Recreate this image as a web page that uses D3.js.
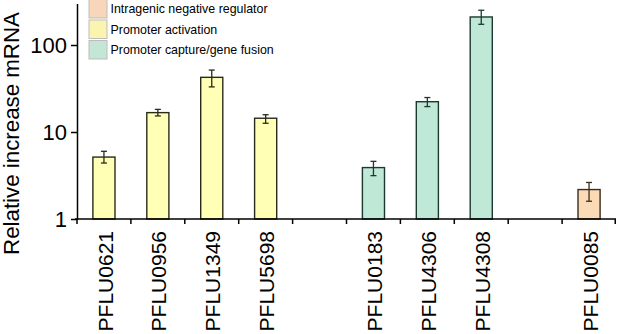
<!DOCTYPE html>
<html>
<head>
<meta charset="utf-8">
<script src="https://cdn.jsdelivr.net/npm/d3@7"></script>
<style>
  html, body { margin: 0; padding: 0; background: #fff; }
  svg { display: block; font-family: "Liberation Sans", Arial, Helvetica, sans-serif; }
</style>
</head>
<body>
<svg id="chart" width="617" height="334"></svg>
<script>
// ---- data ----
const categories = ["PFLU0621","PFLU0956","PFLU1349","PFLU5698","","PFLU0183","PFLU4306","PFLU4308"," ","PFLU0085"];
const values     = [5.15, 16.7, 42.5, 14.4, null, 3.9, 22.3, 210, null, 2.18];
const errLow     = [4.4, 15.3, 33.0, 12.6, null, 3.15, 19.6, 173, null, 1.6];
const errHigh    = [6.0, 18.2, 51.5, 15.8, null, 4.6, 24.9, 251, null, 2.63];
const groups     = ["act","act","act","act",null,"cap","cap","cap",null,"neg"];
const yTicks     = [1, 10, 100];
const legendKeys   = ["neg","act","cap"];
const legendLabels = ["Intragenic negative regulator","Promoter activation","Promoter capture/gene fusion"];
const yTitle = "Relative increase mRNA";

// ---- styles ----
const fillColor   = {neg:"#fbdab6", act:"#ffffb6", cap:"#bfe8d6"};
const strokeColor = {neg:"#3a2e1c", act:"#2a2a1a", cap:"#1b3a2f"};
const swatchColor = {neg:"#f8d6b9", act:"#fbf4b0", cap:"#c4e6d7"};

const svg = d3.select("#chart");
const x0 = 77, x1 = 616, yBase = 219, yTop = 3.5;

const x = d3.scaleBand().domain(categories).range([x0, x1]).padding(0);
const y = d3.scaleLog().domain([1, 300]).range([yBase, yTop]);
const barW = x.bandwidth() * 0.41;

const data = categories.map((c, i) => ({c, v: values[i], lo: errLow[i], hi: errHigh[i], g: groups[i]}))
  .filter(d => d.v != null);

// bars
svg.append("g").selectAll("rect").data(data).join("rect")
  .attr("x", d => x(d.c) + x.bandwidth()/2 - barW/2)
  .attr("y", d => y(d.v))
  .attr("width", barW)
  .attr("height", d => yBase - y(d.v))
  .attr("fill", d => fillColor[d.g])
  .attr("stroke", d => strokeColor[d.g])
  .attr("stroke-width", 1.4);

// error bars
const eb = svg.append("g").attr("stroke-width", 1.3);
data.forEach(d => {
  const cx = x(d.c) + x.bandwidth()/2;
  eb.append("line").attr("x1", cx).attr("x2", cx).attr("y1", y(d.lo)).attr("y2", y(d.hi)).attr("stroke", strokeColor[d.g]);
  [d.lo, d.hi].forEach(v => {
    eb.append("line").attr("x1", cx - 3).attr("x2", cx + 3).attr("y1", y(v)).attr("y2", y(v)).attr("stroke", strokeColor[d.g]);
  });
});

// y axis
const yAxis = d3.axisLeft(y).tickValues(yTicks).tickFormat(d3.format("d")).tickSize(6).tickPadding(4).tickSizeOuter(0);
const gy = svg.append("g").attr("transform", `translate(${x0},0)`).call(yAxis);
gy.select(".domain").attr("stroke", "#000").attr("stroke-width", 1.5);
gy.selectAll(".tick line").attr("stroke", "#000").attr("stroke-width", 1.5);
gy.selectAll(".tick text").attr("font-size", 22).attr("fill", "#000")
  .attr("font-family", "Liberation Sans, Arial, sans-serif");

// x axis (ticks at band boundaries)
const gx = svg.append("g");
gx.append("line").attr("x1", x0 - 2).attr("x2", x1).attr("y1", yBase).attr("y2", yBase)
  .attr("stroke", "#000").attr("stroke-width", 1.5);
const edges = categories.map(c => x(c)).concat([x1 - 0.75]);
gx.selectAll("line.t").data(edges).join("line").attr("class", "t")
  .attr("x1", d => d).attr("x2", d => d).attr("y1", yBase).attr("y2", yBase + 5)
  .attr("stroke", "#000").attr("stroke-width", 1.5);
gx.selectAll("text").data(categories.filter(c => c.trim() !== "")).join("text")
  .attr("transform", c => `translate(${x(c) + x.bandwidth()/2 + 1},${yBase + 12}) rotate(-90)`)
  .attr("text-anchor", "end")
  .attr("dy", "0.36em")
  .attr("font-size", 21)
  .attr("fill", "#000")
  .text(c => c);

// y title
svg.append("text")
  .attr("transform", `translate(19,133.5) rotate(-90)`)
  .attr("text-anchor", "middle")
  .attr("font-size", 22.3)
  .attr("fill", "#000")
  .text(yTitle);

// legend
const lg = svg.append("g");
legendKeys.forEach((k, i) => {
  const yy = -0.5 + i * 20.5;
  lg.append("rect").attr("x", 89).attr("y", yy).attr("width", 18).attr("height", 18.5)
    .attr("fill", swatchColor[k]).attr("stroke", "#bdbdbd").attr("stroke-width", 1);
  lg.append("text").attr("x", 110.5).attr("y", yy + 9.5).attr("dy", "0.35em")
    .attr("font-size", 12.4).attr("fill", "#000").text(legendLabels[i]);
});
</script>
</body>
</html>
